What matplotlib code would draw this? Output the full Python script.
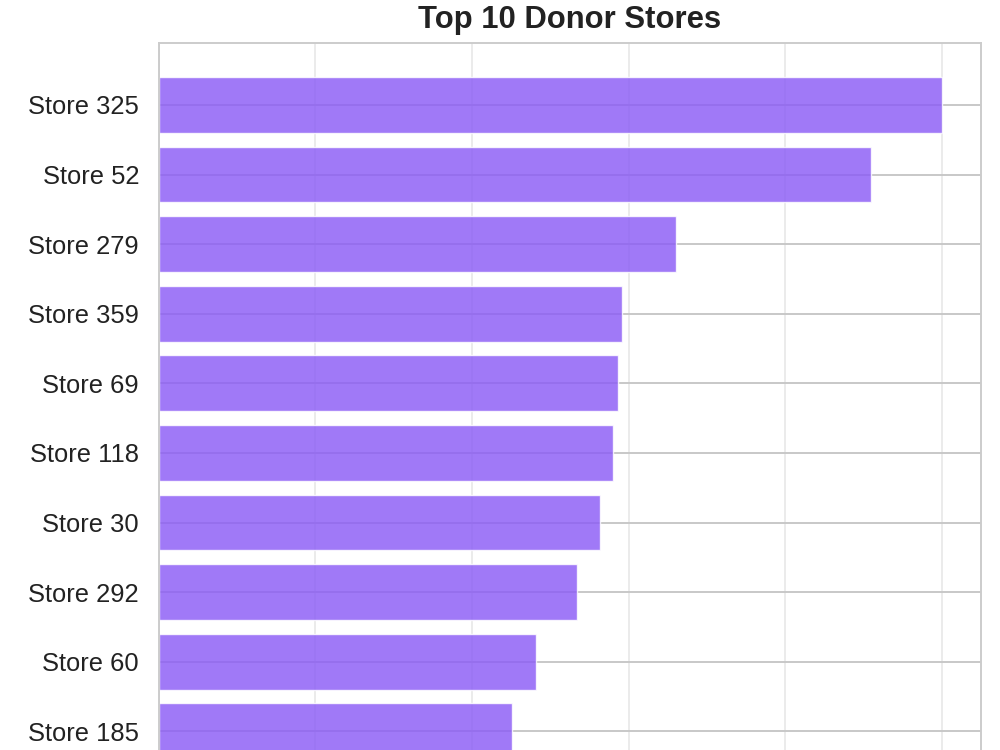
import matplotlib
matplotlib.use("Agg")
import matplotlib.pyplot as plt

plt.rcParams['font.family'] = ['Liberation Sans', 'DejaVu Sans']

stores = ["Store 325", "Store 52", "Store 279", "Store 359", "Store 69",
          "Store 118", "Store 30", "Store 292", "Store 60", "Store 185"]
donations = [5000, 4545, 3302, 2957, 2930, 2904, 2816, 2674, 2412, 2258]
title = "Top 10 Donor Stores"

fig = plt.figure(figsize=(10, 7.5), dpi=100)
ax = fig.add_axes([0.1585, -0.0577, 0.8225, 1.0004])

pos = list(range(len(stores)))
ax.barh(pos, donations, height=0.8, color="#8b5cf6", alpha=0.82,
        edgecolor="white", linewidth=1.0, zorder=2)
ax.set_yticks(pos)
ax.set_yticklabels(stores)
ax.invert_yaxis()

ax.set_axisbelow(True)
ax.grid(axis='y', color='#c8c8c8', linewidth=1.4, zorder=0)
ax.grid(axis='x', color='#cccccc', alpha=0.4, linewidth=1.4, zorder=0)

for s in ax.spines.values():
    s.set_color('#cccccc')
    s.set_linewidth(1.4)

ax.tick_params(axis='y', length=0, pad=14, labelsize=18.4, labelcolor='#222222')
# x tick labels fall below the visible figure area in the reference
ax.tick_params(axis='x', length=0, labelbottom=False)

ax.set_title(title, fontsize=22.3, fontweight='bold', color='#222222', pad=10.5)

fig.savefig("out.png", dpi=100)
